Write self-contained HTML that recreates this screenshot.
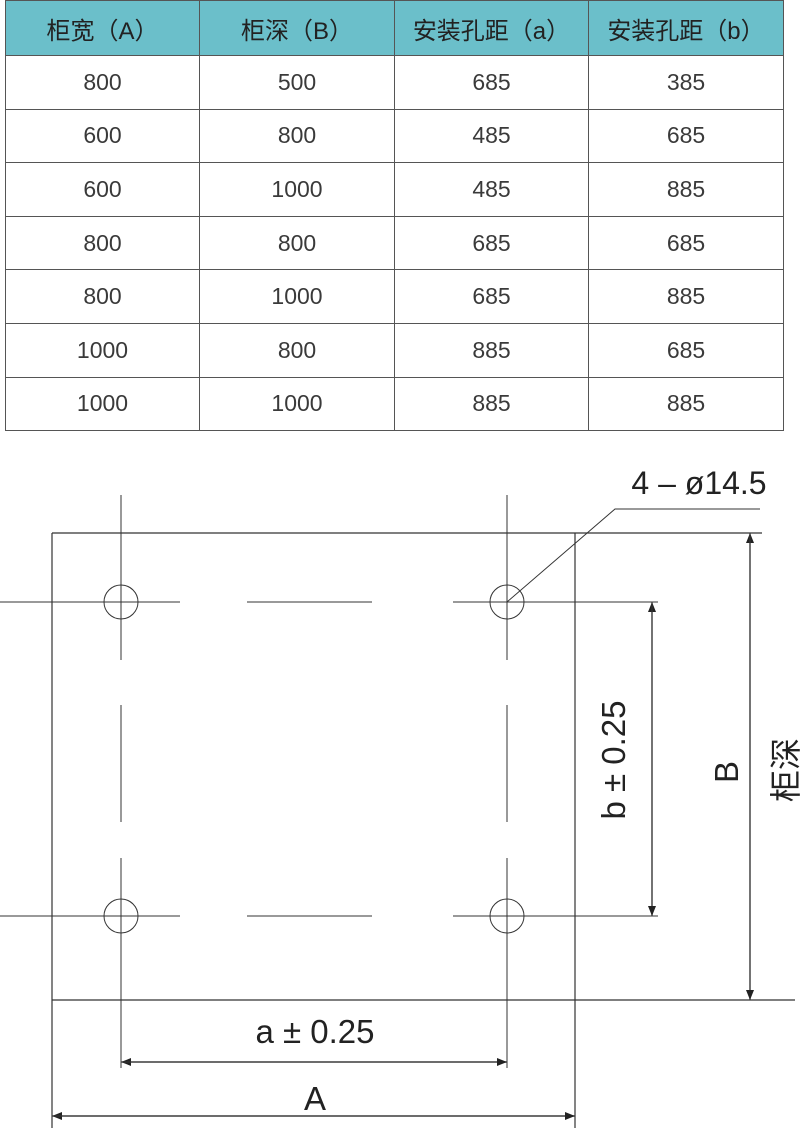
<!DOCTYPE html>
<html><head><meta charset="utf-8"><style>
body{margin:0;width:800px;height:1128px;background:#fff;overflow:hidden;font-family:"Liberation Sans","Noto Sans CJK SC",sans-serif;}
table{position:absolute;left:5px;top:0;border-collapse:collapse;}
td{border:1px solid #555;text-align:center;font-size:23px;color:#3a3a3a;height:52.6px;padding:0;}
tr:first-child td{background:#6bbfca;height:54px;font-size:24px;color:#222;}
</style></head><body>
<table>
<tr><td style="width:193px">柜宽（A）</td><td style="width:194px">柜深（B）</td><td style="width:193px">安装孔距（a）</td><td style="width:194px">安装孔距（b）</td></tr>
<tr><td>800</td><td>500</td><td>685</td><td>385</td></tr>
<tr><td>600</td><td>800</td><td>485</td><td>685</td></tr>
<tr><td>600</td><td>1000</td><td>485</td><td>885</td></tr>
<tr><td>800</td><td>800</td><td>685</td><td>685</td></tr>
<tr><td>800</td><td>1000</td><td>685</td><td>885</td></tr>
<tr><td>1000</td><td>800</td><td>885</td><td>685</td></tr>
<tr><td>1000</td><td>1000</td><td>885</td><td>885</td></tr>
</table>
<svg width="800" height="1128" style="position:absolute;left:0;top:0" fill="none" stroke="#333" stroke-width="1.2">
<defs><marker id="ar" markerWidth="10" markerHeight="8" refX="9" refY="4" orient="auto" markerUnits="userSpaceOnUse"><path d="M0,0L10,4L0,8z" fill="#222" stroke="none"/></marker></defs>
<line x1="52" y1="533" x2="762" y2="533"/>
<line x1="52" y1="533" x2="52" y2="1128"/>
<line x1="575" y1="533" x2="575" y2="1128"/>
<line x1="52" y1="1000" x2="795" y2="1000"/>
<g stroke-width="1">
<line x1="0" y1="602" x2="180" y2="602"/><line x1="247" y1="602" x2="372" y2="602"/><line x1="453" y1="602" x2="658" y2="602"/>
<line x1="0" y1="916" x2="180" y2="916"/><line x1="247" y1="916" x2="372" y2="916"/><line x1="453" y1="916" x2="658" y2="916"/>
<line x1="121" y1="495" x2="121" y2="660"/><line x1="121" y1="705" x2="121" y2="822"/><line x1="121" y1="858" x2="121" y2="1068"/>
<line x1="507" y1="495" x2="507" y2="660"/><line x1="507" y1="705" x2="507" y2="822"/><line x1="507" y1="858" x2="507" y2="1068"/>
<circle cx="121" cy="602" r="17"/><circle cx="507" cy="602" r="17"/>
<circle cx="121" cy="916" r="17"/><circle cx="507" cy="916" r="17"/>
<polyline points="507,602 615,509 760,509"/>
</g>
<line x1="652" y1="916" x2="652" y2="603" marker-end="url(#ar)"/>
<line x1="652" y1="602" x2="652" y2="915" marker-end="url(#ar)"/>
<line x1="750" y1="1000" x2="750" y2="534" marker-end="url(#ar)"/>
<line x1="750" y1="533" x2="750" y2="999" marker-end="url(#ar)"/>
<line x1="507" y1="1062" x2="122" y2="1062" marker-end="url(#ar)"/>
<line x1="121" y1="1062" x2="506" y2="1062" marker-end="url(#ar)"/>
<line x1="575" y1="1116" x2="53" y2="1116" marker-end="url(#ar)"/>
<line x1="52" y1="1116" x2="574" y2="1116" marker-end="url(#ar)"/>
<g fill="#222" stroke="none" font-family="Liberation Sans, sans-serif">
<text x="699" y="494" font-size="32" text-anchor="middle">4 – ø14.5</text>
<text x="315" y="1043" font-size="33" text-anchor="middle">a ± 0.25</text>
<text x="315" y="1110" font-size="33" text-anchor="middle">A</text>
<text transform="translate(625,760) rotate(-90)" font-size="33" text-anchor="middle">b ± 0.25</text>
<text transform="translate(738,772) rotate(-90)" font-size="33" text-anchor="middle">B</text>
<text transform="translate(797,770) rotate(-90)" font-size="32" text-anchor="middle" font-family="Noto Sans CJK SC, sans-serif">柜深</text>
</g>
</svg>
</body></html>
